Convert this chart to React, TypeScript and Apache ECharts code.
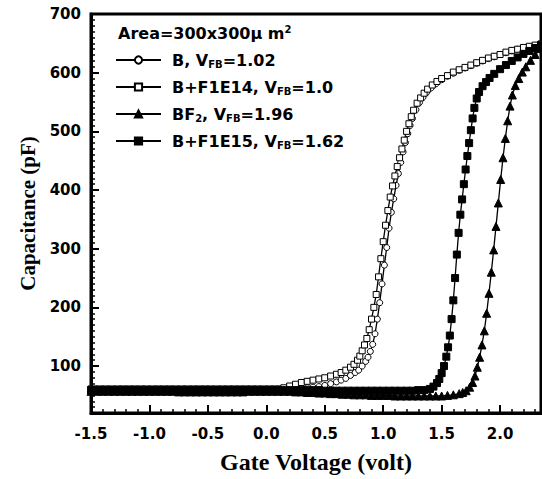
import React, { useEffect, useRef } from 'react';
import * as echarts from 'echarts';

const xMajorTicks = [-1.5, -1.0, -0.5, 0.0, 0.5, 1.0, 1.5, 2.0];
const yMajorTicks = [100, 200, 300, 400, 500, 600, 700];

const seriesNames = ['B, VFB=1.02', 'B+F1E14, VFB=1.0', 'BF2, VFB=1.96', 'B+F1E15, VFB=1.62'];

const legendRich: Record<string, string> = {
  'B, VFB=1.02': '{f|B, V}{s|FB}{t|=1.02}',
  'B+F1E14, VFB=1.0': '{f|B+F1E14, V}{s|FB}{t|=1.0}',
  'BF2, VFB=1.96': '{f|BF}{s|2}{t|, V}{s|FB}{t|=1.96}',
  'B+F1E15, VFB=1.62': '{f|B+F1E15, V}{s|FB}{t|=1.62}',
};

// B, VFB=1.02 (open circles)
const dataB: [number, number][] = [
  [-1.5, 61], [-1.45, 61], [-1.4, 61], [-1.35, 61], [-1.3, 61], [-1.25, 61], [-1.2, 61], [-1.15, 61],
  [-1.1, 61], [-1.05, 61], [-1.0, 61], [-0.95, 61], [-0.9, 61], [-0.85, 61], [-0.8, 61], [-0.75, 61],
  [-0.7, 61], [-0.65, 61], [-0.6, 61], [-0.55, 61], [-0.5, 61], [-0.45, 61], [-0.4, 61], [-0.35, 61],
  [-0.3, 61], [-0.25, 61], [-0.2, 61], [-0.15, 61], [-0.1, 61], [-0.05, 61], [0.0, 61], [0.05, 61],
  [0.1, 61], [0.15, 61], [0.2, 61], [0.25, 62], [0.3, 62], [0.35, 63], [0.4, 64], [0.45, 65],
  [0.5, 67], [0.55, 70], [0.6, 73], [0.64, 76], [0.68, 79], [0.72, 84], [0.76, 89], [0.79, 93],
  [0.82, 100], [0.85, 108], [0.87, 115], [0.89, 125], [0.91, 137], [0.93, 155], [0.95, 180], [0.97, 208],
  [0.99, 240], [1.01, 272], [1.03, 302], [1.05, 335], [1.07, 362], [1.09, 385], [1.11, 408], [1.13, 428],
  [1.15, 447], [1.17, 465], [1.19, 481], [1.21, 496], [1.23, 510], [1.25, 522], [1.28, 537], [1.31, 549],
  [1.34, 558], [1.37, 566], [1.41, 574], [1.45, 581], [1.5, 588], [1.55, 594], [1.6, 599], [1.65, 604],
  [1.7, 608], [1.75, 612], [1.8, 616], [1.85, 620], [1.9, 624], [1.95, 627], [2.0, 631], [2.05, 634],
  [2.1, 637], [2.15, 640], [2.2, 642], [2.25, 644], [2.3, 646], [2.35, 648],
];

// B+F1E14, VFB=1.0 (open squares)
const dataF14: [number, number][] = [
  [-1.5, 61], [-1.45, 61], [-1.4, 61], [-1.35, 61], [-1.3, 61], [-1.25, 61], [-1.2, 61], [-1.15, 61],
  [-1.1, 61], [-1.05, 61], [-1.0, 61], [-0.95, 61], [-0.9, 61], [-0.85, 61], [-0.8, 61], [-0.75, 61],
  [-0.7, 61], [-0.65, 61], [-0.6, 61], [-0.55, 61], [-0.5, 61], [-0.45, 61], [-0.4, 61], [-0.35, 61],
  [-0.3, 61], [-0.25, 61], [-0.2, 61], [-0.15, 61], [-0.1, 61], [-0.05, 61], [0.0, 61], [0.05, 61],
  [0.1, 61], [0.15, 63], [0.2, 66], [0.25, 69], [0.3, 72], [0.35, 74], [0.4, 76], [0.45, 78],
  [0.5, 80], [0.55, 83], [0.6, 86], [0.64, 89], [0.68, 93], [0.72, 98], [0.75, 103], [0.78, 110],
  [0.8, 117], [0.82, 126], [0.84, 136], [0.86, 147], [0.88, 162], [0.9, 180], [0.92, 200], [0.94, 222],
  [0.96, 252], [0.98, 283], [1.0, 312], [1.02, 340], [1.04, 365], [1.06, 388], [1.08, 407], [1.1, 424],
  [1.12, 440], [1.14, 455], [1.16, 470], [1.18, 485], [1.2, 500], [1.22, 513], [1.24, 525], [1.26, 536],
  [1.29, 548], [1.32, 557], [1.35, 565], [1.38, 572], [1.42, 579], [1.46, 585], [1.5, 590], [1.55, 595],
  [1.6, 601], [1.65, 605], [1.7, 609], [1.75, 613], [1.8, 617], [1.85, 621], [1.9, 625], [1.95, 628],
  [2.0, 631], [2.05, 635], [2.1, 638], [2.15, 640], [2.2, 643], [2.25, 645], [2.3, 647], [2.35, 649],
];

// BF2, VFB=1.96 (filled triangles)
const dataBF2: [number, number][] = [
  [-1.5, 57], [-1.45, 57], [-1.4, 57], [-1.35, 57], [-1.3, 57], [-1.25, 57], [-1.2, 57], [-1.15, 57],
  [-1.1, 57], [-1.05, 57], [-1.0, 57], [-0.95, 57], [-0.9, 57], [-0.85, 57], [-0.8, 57], [-0.75, 56],
  [-0.7, 56], [-0.65, 56], [-0.6, 56], [-0.55, 56], [-0.5, 56], [-0.45, 56], [-0.4, 56], [-0.35, 56],
  [-0.3, 56], [-0.25, 56], [-0.2, 56], [-0.15, 57], [-0.1, 57], [-0.05, 57], [0.0, 57], [0.05, 57],
  [0.1, 57], [0.15, 57], [0.2, 57], [0.25, 56], [0.3, 56], [0.35, 55], [0.4, 55], [0.45, 54],
  [0.5, 54], [0.55, 53], [0.6, 53], [0.65, 52], [0.7, 52], [0.75, 51], [0.8, 51], [0.85, 51],
  [0.9, 50], [0.95, 50], [1.0, 50], [1.05, 50], [1.1, 49], [1.15, 49], [1.2, 49], [1.25, 49],
  [1.3, 49], [1.35, 49], [1.4, 49], [1.45, 49], [1.5, 49], [1.55, 50], [1.6, 51], [1.65, 53],
  [1.68, 55], [1.71, 58], [1.74, 64], [1.765, 72], [1.785, 83], [1.805, 98], [1.825, 115], [1.845, 136],
  [1.865, 160], [1.885, 190], [1.905, 224], [1.925, 260], [1.945, 298], [1.965, 338], [1.985, 378], [2.005, 418],
  [2.025, 455], [2.045, 488], [2.065, 518], [2.085, 543], [2.105, 562], [2.13, 578], [2.16, 590], [2.19, 601],
  [2.22, 610], [2.26, 621], [2.3, 631], [2.35, 641],
];

// B+F1E15, VFB=1.62 (filled squares)
const dataF15: [number, number][] = [
  [-1.5, 59], [-1.45, 59], [-1.4, 59], [-1.35, 59], [-1.3, 59], [-1.25, 59], [-1.2, 59], [-1.15, 59],
  [-1.1, 59], [-1.05, 59], [-1.0, 59], [-0.95, 59], [-0.9, 59], [-0.85, 59], [-0.8, 59], [-0.75, 59],
  [-0.7, 59], [-0.65, 59], [-0.6, 59], [-0.55, 59], [-0.5, 59], [-0.45, 59], [-0.4, 59], [-0.35, 59],
  [-0.3, 59], [-0.25, 59], [-0.2, 59], [-0.15, 59], [-0.1, 59], [-0.05, 59], [0.0, 59], [0.05, 59],
  [0.1, 59], [0.15, 59], [0.2, 59], [0.25, 59], [0.3, 59], [0.35, 59], [0.4, 59], [0.45, 59],
  [0.5, 58], [0.55, 58], [0.6, 58], [0.65, 58], [0.7, 58], [0.75, 58], [0.8, 58], [0.85, 58],
  [0.9, 58], [0.95, 58], [1.0, 58], [1.05, 58], [1.1, 58], [1.15, 58], [1.2, 58], [1.25, 58],
  [1.3, 59], [1.35, 59], [1.4, 61], [1.43, 65], [1.46, 71], [1.48, 78], [1.5, 88], [1.52, 100],
  [1.54, 116], [1.555, 132], [1.57, 152], [1.585, 180], [1.6, 212], [1.615, 250], [1.63, 290], [1.645, 327],
  [1.66, 358], [1.675, 384], [1.69, 410], [1.705, 435], [1.72, 458], [1.735, 480], [1.75, 502], [1.765, 522],
  [1.78, 540], [1.8, 556], [1.82, 567], [1.85, 577], [1.88, 584], [1.91, 591], [1.95, 598], [2.0, 606],
  [2.05, 613], [2.1, 620], [2.15, 626], [2.2, 632], [2.25, 637], [2.3, 642], [2.35, 647],
];

const BLACK = '#000';
const SANS = 'DejaVu Sans';
const SERIF = 'Liberation Serif';

export default function App() {
  const ref = useRef<HTMLDivElement>(null);

  useEffect(() => {
    document.body.style.margin = '0';
    if (!ref.current) return;
    const chart = echarts.init(ref.current, undefined, { renderer: 'svg' });

    const lineSeries = (name: string, data: [number, number][], symbol: string, size: number, filled: boolean) => ({
      name,
      type: 'line',
      data,
      symbol,
      symbolSize: size,
      showSymbol: true,
      lineStyle: { color: BLACK, width: 1.3 },
      itemStyle: { color: filled ? BLACK : '#fff', borderColor: BLACK, borderWidth: 1 },
      emphasis: { disabled: true },
      clip: false,
    });

    chart.setOption({
      animation: false,
      backgroundColor: '#fff',
      title: {
        text: '{t|Area=300x300\u00b5 m}{sup|2}',
        left: 118,
        top: 24,
        padding: 0,
        textStyle: {
          rich: {
            t: { fontFamily: SANS, fontWeight: 'bold', fontSize: 16, color: BLACK, lineHeight: 18 },
            sup: { fontFamily: SANS, fontWeight: 'bold', fontSize: 10, color: BLACK, lineHeight: 6, verticalAlign: 'top' },
          },
        },
      },
      legend: {
        orient: 'vertical',
        left: 115,
        top: 52,
        padding: 0,
        itemWidth: 45,
        itemHeight: 9,
        itemGap: 10,
        data: seriesNames,
        selectedMode: false,
        formatter: (name: string) => legendRich[name],
        lineStyle: { width: 2 },
        textStyle: {
          color: BLACK,
          fontFamily: SANS,
          fontWeight: 'bold',
          fontSize: 16,
          rich: {
            f: { fontFamily: SANS, fontWeight: 'bold', fontSize: 16, color: BLACK, lineHeight: 18, padding: [0, 0, 0, 6] },
            t: { fontFamily: SANS, fontWeight: 'bold', fontSize: 16, color: BLACK, lineHeight: 18 },
            s: { fontFamily: SANS, fontWeight: 'bold', fontSize: 10, color: BLACK, lineHeight: 6, verticalAlign: 'bottom' },
          },
        },
      },
      grid: {
        left: 91,
        right: 1,
        top: 14,
        bottom: 66,
        show: true,
        borderColor: BLACK,
        borderWidth: 3,
        backgroundColor: 'transparent',
        outerBoundsMode: 'none',
      },
      xAxis: [
        {
          type: 'value',
          min: -1.5,
          max: 2.35,
          position: 'bottom',
          axisLine: { show: true, onZero: false, lineStyle: { color: BLACK, width: 3 } },
          axisTick: { show: true, inside: true, length: 8, customValues: xMajorTicks, lineStyle: { color: BLACK, width: 2 } },
          axisLabel: {
            customValues: xMajorTicks,
            formatter: (v: number) => v.toFixed(1),
            color: BLACK,
            fontFamily: SANS,
            fontWeight: 'bold',
            fontSize: 15,
            margin: 13,
          },
          splitLine: { show: false },
          name: 'Gate Voltage (volt)',
          nameLocation: 'middle',
          nameGap: 37,
          nameTextStyle: { fontFamily: SERIF, fontWeight: 'bold', fontSize: 24, color: BLACK },
        },
        {
          type: 'value',
          min: -1.5,
          max: 2.35,
          interval: 0.1,
          position: 'bottom',
          axisLine: { show: false, onZero: false },
          axisTick: { show: true, inside: true, length: 4, lineStyle: { color: BLACK, width: 1.5 } },
          axisLabel: { show: false },
          splitLine: { show: false },
        },
      ],
      yAxis: [
        {
          type: 'value',
          min: 20,
          max: 700,
          position: 'left',
          axisLine: { show: true, onZero: false, lineStyle: { color: BLACK, width: 3 } },
          axisTick: { show: true, inside: true, length: 8, customValues: yMajorTicks, lineStyle: { color: BLACK, width: 2 } },
          axisLabel: {
            customValues: yMajorTicks,
            color: BLACK,
            fontFamily: SANS,
            fontWeight: 'bold',
            fontSize: 15,
            margin: 10,
          },
          splitLine: { show: false },
          name: 'Capacitance (pF)',
          nameLocation: 'middle',
          nameGap: 51,
          nameTextStyle: { fontFamily: SERIF, fontWeight: 'bold', fontSize: 21, color: BLACK },
        },
        {
          type: 'value',
          min: 20,
          max: 700,
          interval: 10,
          position: 'left',
          axisLine: { show: false, onZero: false },
          axisTick: { show: true, inside: true, length: 4, lineStyle: { color: BLACK, width: 1.5 } },
          axisLabel: { show: false },
          splitLine: { show: false },
        },
      ],
      series: [
        lineSeries(seriesNames[0], dataB, 'circle', 6, false),
        lineSeries(seriesNames[1], dataF14, 'rect', 6, false),
        lineSeries(seriesNames[2], dataBF2, 'triangle', 8, true),
        lineSeries(seriesNames[3], dataF15, 'rect', 7, true),
      ],
    });

    return () => chart.dispose();
  }, []);

  return <div ref={ref} style={{ width: 542, height: 479 }} />;
}
